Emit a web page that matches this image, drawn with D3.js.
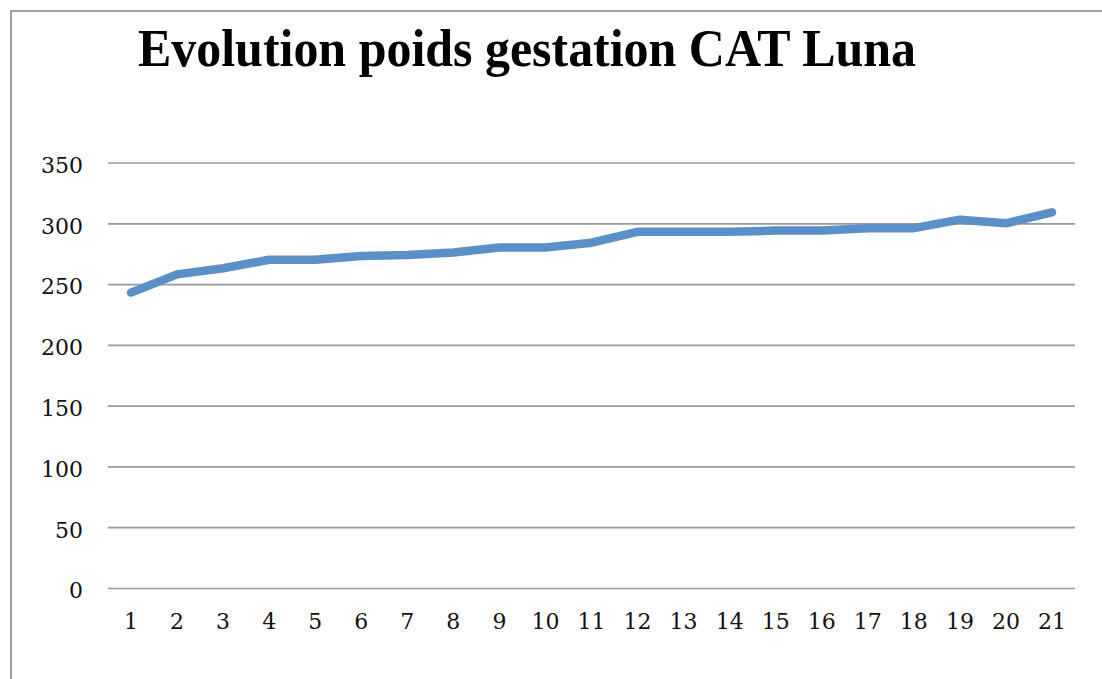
<!DOCTYPE html>
<html><head><meta charset="utf-8">
<script src="https://cdn.jsdelivr.net/npm/d3@7"></script>
<style>html,body{margin:0;padding:0;background:#fff;}svg{display:block;}</style>
</head><body>
<svg id="chart" width="1102" height="679"></svg>
<script>
const title = "Evolution poids gestation CAT Luna";
const categories = ["1","2","3","4","5","6","7","8","9","10","11","12","13","14","15","16","17","18","19","20","21"];
const values = [243,258,263,270,270,273,274,276,280,280,284,293,293,293,294,294,296,296,303,300,309];
const yTicks = [0,50,100,150,200,250,300,350];

const svg = d3.select("#chart");
svg.append("path").attr("d","M11,679 V11 H1102").attr("fill","none").attr("stroke","#a0a0a0").attr("stroke-width",2);

const plotLeft = 108, plotRight = 1075, plotTop = 162.5, plotBottom = 588;
const x = d3.scaleBand().domain(categories).range([plotLeft, plotRight]);
const y = d3.scaleLinear().domain([0,350]).range([plotBottom, plotTop]);

const yAxis = d3.axisLeft(y).tickValues(yTicks).tickSize(-(plotRight-plotLeft)).tickPadding(25).tickFormat(d3.format("d"));
const gy = svg.append("g").attr("transform",`translate(${plotLeft},0)`).call(yAxis);
gy.select(".domain").remove();
gy.selectAll(".tick line").attr("stroke","#999").attr("stroke-width",1.7);
gy.selectAll(".tick text").attr("font-family","'DejaVu Serif', serif").attr("font-size",22).attr("fill","#111").attr("dy","0.45em");

const xAxis = d3.axisBottom(x).tickSize(0).tickPadding(25);
const gx = svg.append("g").attr("transform",`translate(0,${plotBottom})`).call(xAxis);
gx.select(".domain").remove();
gx.selectAll(".tick text").attr("font-family","'DejaVu Serif', serif").attr("font-size",22).attr("fill","#111");

const line = d3.line().x((d,i)=>x(categories[i])+x.bandwidth()/2).y(d=>y(d));
svg.append("path").datum(values).attr("d",line).attr("fill","none").attr("stroke","#5b8fc7")
  .attr("stroke-width",8.5).attr("stroke-linecap","round").attr("stroke-linejoin","round");

const t = svg.append("text").attr("x",138).attr("y",66).attr("font-family","'Liberation Serif', serif")
  .attr("font-weight","bold").attr("font-size",53).attr("fill","#000").text(title);
t.attr("textLength",778).attr("lengthAdjust","spacingAndGlyphs");
</script>
</body></html>
